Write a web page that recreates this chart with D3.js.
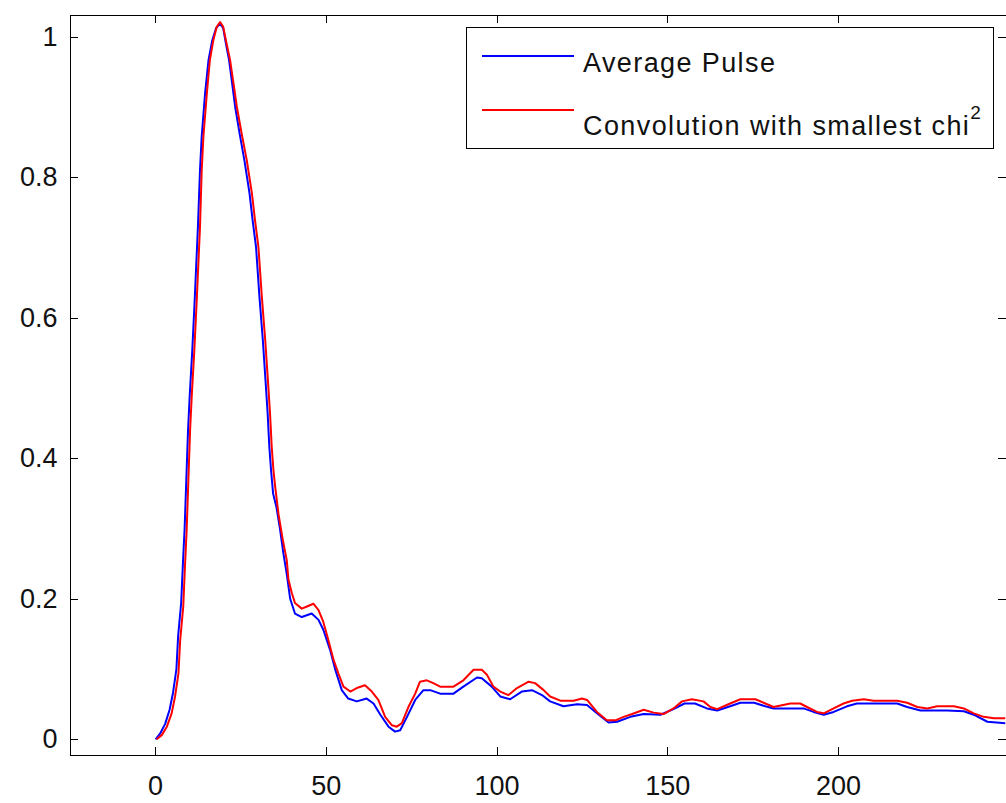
<!DOCTYPE html>
<html>
  <head>
    <meta charset="utf-8">
    <title>Average Pulse vs Convolution</title>
  <script src="https://d3js.org/d3.v7.min.js"></script>
 </head>
  <body style="margin:0;background:#fff">
<style>
  .axis path, .axis line {
    stroke: #000;
    stroke-width: 1;
    shape-rendering: crispEdges;
  }
  .axis text {
    font-family: "Liberation Sans", Arial, Helvetica, sans-serif;
    font-size: 27px;
    fill: #111;
  }
  .legend text {
    font-family: "Liberation Sans", Arial, Helvetica, sans-serif;
    font-size: 27px;
    letter-spacing: 1.4px;
    fill: #111;
  }
</style>
<script type="text/javascript">

  // tick labels
  var xTicks = [0, 50, 100, 150, 200],
      yTicks = [0, 0.2, 0.4, 0.6, 0.8, 1];

  // blue series: average pulse
  var pulseX = [0.2, 1.5, 3, 4.3, 5.3, 6.3, 6.8, 7.7, 8.2, 8.7, 9.2, 9.7, 10.2, 10.9, 11.6, 12.6, 13.2, 13.7, 14.7, 15.7,
                16.8, 17.9, 19, 20, 20.8, 21.7, 22.6, 23.5, 24.8, 26.2, 27.7, 28.6, 29.6, 30.6, 31.6, 32.5, 33, 33.5, 34, 34.6,
                35.6, 36.6, 37.6, 38.6, 39.6, 41, 43, 45.9, 47.9, 49.3, 51.3, 52.8, 54.7, 56.6, 59.1, 62, 64, 66, 68.4, 70.3,
                71.8, 73.8, 76.2, 78.6, 80.6, 83.5, 87.4, 90.3, 94.3, 95.7, 98.6, 101.1, 104, 107.4, 110.4, 113.3, 115.7, 119.6, 123.6, 126.5,
                129.4, 132.8, 135.3, 139.2, 143.1, 148, 151.8, 155, 158.1, 161.6, 164.6, 168.4, 171.4, 175.4, 178.7, 181.1, 185, 189.9, 192.8, 195.8,
                198.7, 202.6, 205.5, 209.5, 217.3, 220.2, 224.1, 231.9, 236.8, 239.7, 243.7, 249];
  var pulseY = [0, 0.008, 0.022, 0.042, 0.066, 0.1, 0.147, 0.195, 0.25, 0.3, 0.37, 0.44, 0.49, 0.55, 0.62, 0.73, 0.81, 0.858, 0.92, 0.967,
                0.995, 1.012, 1.019, 1.012, 0.99, 0.967, 0.934, 0.9, 0.862, 0.824, 0.777, 0.739, 0.701, 0.63, 0.568, 0.502, 0.464, 0.416, 0.383, 0.35,
                0.33, 0.3, 0.265, 0.235, 0.2, 0.179, 0.174, 0.179, 0.17, 0.156, 0.127, 0.099, 0.07, 0.058, 0.054, 0.058, 0.051, 0.035, 0.018, 0.011,
                0.013, 0.032, 0.056, 0.07, 0.07, 0.065, 0.065, 0.075, 0.088, 0.087, 0.075, 0.061, 0.057, 0.068, 0.07, 0.063, 0.054, 0.047, 0.05, 0.049,
                0.037, 0.024, 0.025, 0.032, 0.036, 0.035, 0.043, 0.051, 0.051, 0.044, 0.041, 0.047, 0.052, 0.052, 0.047, 0.044, 0.044, 0.044, 0.039, 0.035,
                0.039, 0.047, 0.051, 0.051, 0.051, 0.046, 0.041, 0.041, 0.04, 0.035, 0.025, 0.023];

  // red series: convolution with smallest chi^2
  var convX = [0.5, 2, 3.5, 4.9, 5.9, 6.9, 7.4, 8.3, 8.8, 9.3, 9.8, 10.3, 10.8, 11.5, 12.2, 13.2, 13.7, 14.2, 15.2, 16.1,
               17.1, 18.1, 19.1, 20, 21, 22, 23, 24, 25.4, 26.9, 28.4, 29.3, 30.3, 31.3, 32.3, 33.2, 33.7, 34.2, 34.7, 35.2,
               36.2, 37.4, 38.6, 39.1, 40.1, 41, 43, 44.5, 46.4, 47.9, 49.3, 50.8, 52.3, 53.7, 55.2, 57.2, 59.1, 61.5, 63.5, 65.4,
               67.4, 69.4, 70.8, 72.3, 74.2, 76.2, 77.6, 79.6, 81.5, 83.5, 87.4, 90.3, 93.3, 95.7, 97.2, 99.1, 101.1, 103.5, 106, 109.4,
               111.3, 113.8, 115.7, 118.7, 122.6, 125, 126.5, 129.4, 132.3, 134.8, 137.2, 139.7, 143.1, 146, 148.9, 151.8, 154.3, 157.2, 160.6, 162.6,
               164.6, 168.4, 171.4, 175.8, 178.7, 181.1, 186, 188.9, 190.9, 193.8, 195.8, 198.7, 201.6, 204.1, 207.5, 210.4, 217.3, 220.2, 223.2, 226.1,
               229, 233.9, 236.8, 239.7, 242.6, 245.6, 249];
  var convY = [0, 0.006, 0.018, 0.037, 0.061, 0.094, 0.141, 0.189, 0.246, 0.298, 0.369, 0.44, 0.49, 0.55, 0.62, 0.729, 0.81, 0.858, 0.919, 0.967,
               0.995, 1.014, 1.021, 1.014, 0.99, 0.967, 0.934, 0.9, 0.862, 0.824, 0.777, 0.739, 0.701, 0.63, 0.568, 0.502, 0.464, 0.416, 0.383, 0.36,
               0.32, 0.285, 0.255, 0.227, 0.208, 0.194, 0.186, 0.189, 0.193, 0.184, 0.167, 0.141, 0.113, 0.094, 0.075, 0.068, 0.073, 0.077, 0.068, 0.056,
               0.032, 0.02, 0.018, 0.023, 0.046, 0.065, 0.082, 0.084, 0.08, 0.075, 0.075, 0.084, 0.099, 0.099, 0.092, 0.075, 0.068, 0.063, 0.073, 0.082,
               0.08, 0.07, 0.061, 0.055, 0.055, 0.058, 0.056, 0.039, 0.027, 0.027, 0.032, 0.036, 0.042, 0.038, 0.036, 0.044, 0.054, 0.057, 0.054, 0.046,
               0.043, 0.051, 0.057, 0.057, 0.051, 0.046, 0.051, 0.051, 0.046, 0.039, 0.037, 0.044, 0.051, 0.055, 0.057, 0.055, 0.055, 0.052, 0.046, 0.044,
               0.047, 0.047, 0.044, 0.037, 0.032, 0.03, 0.03];

  var seriesNames = ["Average Pulse", "Convolution with smallest chi"],
      seriesColors = ["#0000ff", "#ff0000"];

  var w = 1006,
      h = 803;

  var svg = d3.select("body").append("svg")
    .attr("width", w)
    .attr("height", h)
    .style("display", "block");

  // scales, plot box runs from 69.5 to 1005.5 and 14.5 to 754.5
  var x = d3.scaleLinear()
    .domain([-25, 249])
    .range([69.5, 1005.5]);

  var y = d3.scaleLinear()
    .domain([-0.0216, 1.0316])
    .range([754.5, 14.5]);

  svg.append("clipPath")
      .attr("id", "plot-clip")
    .append("rect")
      .attr("x", 69.5)
      .attr("y", 14.5)
      .attr("width", 936)
      .attr("height", 740);

  // lines, blue first so red sits on top
  var line = d3.line()
      .x(function(d) { return x(d[0]); })
      .y(function(d) { return y(d[1]); });

  var series = [d3.zip(pulseX, pulseY), d3.zip(convX, convY)];

  svg.append("g")
      .attr("clip-path", "url(#plot-clip)")
      .selectAll("path")
      .data(series)
    .enter()
      .append("path")
      .attr("d", line)
      .attr("fill", "none")
      .attr("stroke", function(d, i) { return seriesColors[i]; })
      .attr("stroke-width", 2)
      .attr("stroke-linejoin", "round");

  // axes, ticks point inward on all four sides
  svg.append("g")
      .attr("class", "axis")
      .attr("transform", "translate(0," + y.range()[0] + ")")
      .call(d3.axisBottom(x).tickValues(xTicks).tickSizeInner(-8).tickSizeOuter(0).tickPadding(21)
        .tickFormat(d3.format("d")));

  svg.append("g")
      .attr("class", "axis")
      .attr("transform", "translate(0," + y.range()[1] + ")")
      .call(d3.axisTop(x).tickValues(xTicks).tickSizeInner(-8).tickSizeOuter(0).tickFormat(""));

  svg.append("g")
      .attr("class", "axis")
      .attr("transform", "translate(" + x.range()[0] + ",0)")
      .call(d3.axisLeft(y).tickValues(yTicks).tickSizeInner(-8).tickSizeOuter(0).tickPadding(12)
        .tickFormat(function(d) { return d3.format("~g")(d); }));

  svg.append("g")
      .attr("class", "axis")
      .attr("transform", "translate(" + x.range()[1] + ",0)")
      .call(d3.axisRight(y).tickValues(yTicks).tickSizeInner(-8).tickSizeOuter(0).tickFormat(""));

  svg.selectAll(".axis .domain").attr("stroke", "#000");

  // legend box
  var legend = svg.append("g").attr("class", "legend");

  legend.append("rect")
      .attr("x", 466.5)
      .attr("y", 27.5)
      .attr("width", 527)
      .attr("height", 121)
      .attr("fill", "#fff")
      .attr("stroke", "#000")
      .attr("stroke-width", 1)
      .attr("shape-rendering", "crispEdges");

  var rows = [{line: 56, text: 72}, {line: 110, text: 135}];

  legend.selectAll("line")
      .data(seriesNames)
    .enter()
      .append("line")
      .attr("x1", 482)
      .attr("x2", 574)
      .attr("y1", function(d, i) { return rows[i].line; })
      .attr("y2", function(d, i) { return rows[i].line; })
      .attr("stroke", function(d, i) { return seriesColors[i]; })
      .attr("stroke-width", 2);

  var label = legend.selectAll("text")
      .data(seriesNames)
    .enter()
      .append("text")
      .attr("x", 583)
      .attr("y", function(d, i) { return rows[i].text; })
      .text(function(d) { return d; });

  // superscript on chi
  label.filter(function(d, i) { return i === 1; })
    .append("tspan")
      .attr("dy", -16)
      .attr("font-size", "19px")
      .text("2");

    </script>
  </body>
</html>
